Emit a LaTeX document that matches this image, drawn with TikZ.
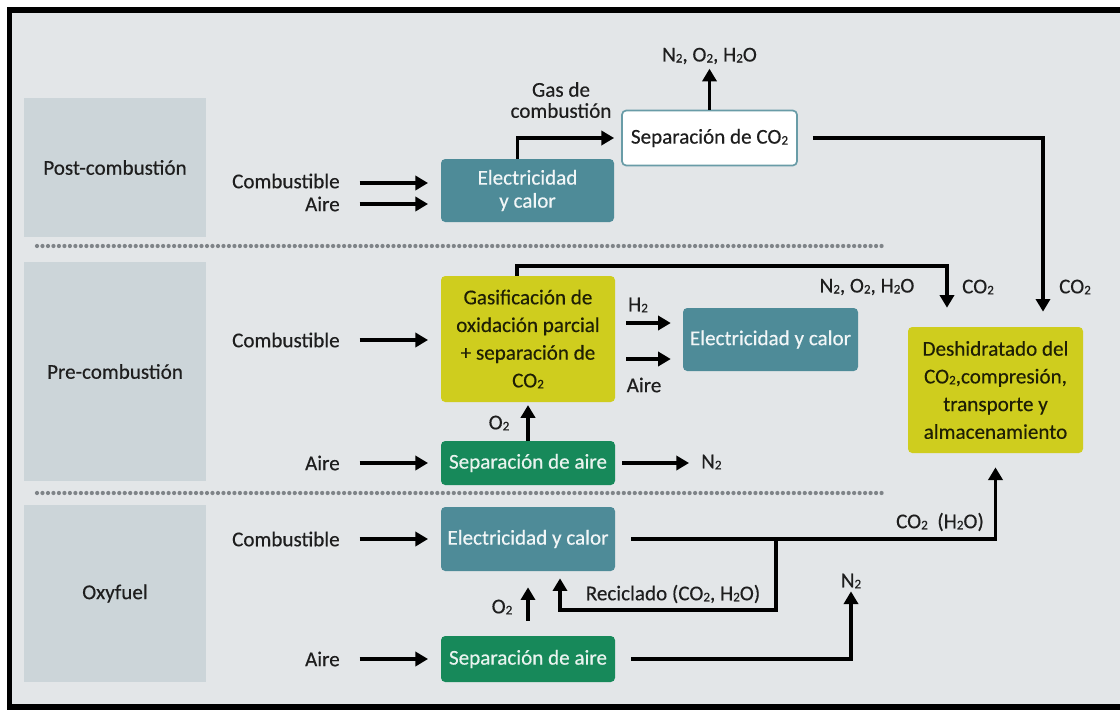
\documentclass[tikz,border=0pt]{standalone}
\usepackage{fontspec}
\setmainfont{Carlito}[UprightFeatures={FakeBold=0.35}]
\usetikzlibrary{arrows.meta}
\definecolor{bg}{HTML}{E3E6E8}
\definecolor{catc}{HTML}{CCD5D9}
\definecolor{tealbx}{HTML}{4E8B98}
\definecolor{yel}{HTML}{CFCD1E}
\definecolor{grn}{HTML}{17895A}
\definecolor{dotc}{HTML}{7F8488}
\definecolor{txt}{HTML}{1E1E1E}
\newcommand{\sbs}[1]{\raisebox{-0.1ex}{\scalebox{0.62}{#1}}}
\def\PX{0.025cm}
\begin{document}
\begin{tikzpicture}[x=0.025cm,y=-0.025cm,
  every node/.style={font=\fontsize{15}{19.7}\selectfont, text=txt, inner sep=0pt},
  wh/.style 2 args={minimum width=#1*\PX, minimum height=#2*\PX},
  catbox/.style={fill=catc, rectangle},
  proc/.style={rectangle, rounded corners=3pt, align=center},
  tealbox/.style={proc, fill=tealbx, text=white!92!tealbx},
  yelbox/.style={proc, fill=yel, text=black!85!yel},
  grnbox/.style={proc, fill=grn, text=white!90!grn},
  wbox/.style={proc, fill=white, draw=tealbx!85!white, line width=1.2pt},
  arr/.style={line width=2.6pt, line join=miter, -{Triangle[length=9pt,width=10pt]}},
  dots/.style={line width=3pt, dotc, line cap=round, dash pattern=on 0pt off 3.9pt}
]
\useasboundingbox (0,0) rectangle (1120,711);
\fill[white] (0,0) rectangle (1120,711);
\fill[bg] (9.5,10) rectangle (1120,707);
\draw[line width=4.2pt, line join=miter] (1120,10) -- (9.5,10) -- (9.5,707) -- (1120,707);

% category boxes
\node[catbox, wh={182}{139}] (cpost) at (115,167.5) {Post-combustión};
\node[catbox, wh={182}{219}] (cpre) at (115,371.5) {Pre-combustión};
\node[catbox, wh={182}{177}] (coxy) at (115,593.5) {Oxyfuel};

% separators
\draw[dots] (37,246) -- (883,246);
\draw[dots] (37,493) -- (883,493);

% ---- post-combustion
\node[anchor=east] (pC) at (340,181) {Combustible};
\node[anchor=east] (pA) at (340,204) {Aire};
\node[tealbox, wh={173}{63}, font=\fontsize{15}{16.4}\selectfont] (ePost) at (527.5,190.5) {Electricidad\\y calor};
\draw[arr, shorten <=14pt, shorten >=9pt] ([yshift=-2*\PX]pC.east) -- ([yshift=-2*\PX]pC.east -| ePost.west);
\draw[arr, shorten <=14pt, shorten >=9pt] (pA.east) -- (pA.east -| ePost.west);
\node[wbox, wh={175}{55}] (sCO2) at (709.5,138) {Separación de CO\sbs{2}};
\draw[arr, shorten >=5pt] ([xshift=-10*\PX]ePost.north) |- (sCO2.west);
\node[align=center, font=\fontsize{15}{15}\selectfont] (gasl) at (561,100) {Gas de\\combustión};
\node (tl) at (709.5,56) {N\sbs{2},\ O\sbs{2},\ H\sbs{2}O};
\draw[arr, shorten >=3pt] (sCO2.north) -- (tl.south);

% ---- deshidratado
\node[yelbox, wh={175}{126}] (des) at (995.5,390) {Deshidratado del\\CO\sbs{2},compresión,\\transporte y\\almacenamiento};
\draw[arr, shorten <=10.7pt, shorten >=10.7pt] (sCO2.east) -| ([xshift=47.5*\PX]des.north);
\node (l3) at (1075,287) {CO\sbs{2}};

% ---- pre-combustion
\node[yelbox, wh={174}{126}] (gas) at (528,339) {Gasificación de\\oxidación parcial\\+ separación de\\CO\sbs{2}};
\node[anchor=east] (rC) at (340,340) {Combustible};
\draw[arr, shorten <=14pt, shorten >=9pt] (rC.east) -- (rC.east -| gas.west);
\draw[arr, shorten >=13.5pt] ([xshift=-11*\PX]gas.north) -- ++(0,-10) -| ([xshift=-48.5*\PX]des.north);
\node (l1) at (867,287) {N\sbs{2},\ O\sbs{2},\ H\sbs{2}O};
\node (l2) at (978,287) {CO\sbs{2}};
\node[tealbox, wh={175}{63}] (eMid) at (770.5,339.5) {Electricidad y calor};
\draw[arr, shorten <=7.8pt, shorten >=8.5pt] ([yshift=16*\PX]gas.east) -- ([yshift=16*\PX]gas.east -| eMid.west);
\draw[arr, shorten <=7.8pt, shorten >=8.5pt] ([yshift=-20*\PX]gas.east) -- ([yshift=-20*\PX]gas.east -| eMid.west);
\node (h2) at (638,305) {H\sbs{2}};
\node (ai) at (644,385) {Aire};
\node[grnbox, wh={174}{44}] (sAp) at (528,463) {Separación de aire};
\node[anchor=east] (rA) at (340,463) {Aire};
\draw[arr, shorten <=14pt, shorten >=9pt] (rA.east) -- (rA.east -| sAp.west);
\draw[arr, shorten >=2pt] (sAp.north) -- (gas.south);
\node (o2p) at (499,423) {O\sbs{2}};
\node[anchor=west] (n2p) at (701,462) {N\sbs{2}};
\draw[arr, shorten <=5pt, shorten >=8.5pt] (sAp.east) -- (sAp.east -| n2p.west);

% ---- oxyfuel
\node[tealbox, wh={174}{64}] (eOxy) at (528,539) {Electricidad y calor};
\node[anchor=east] (oC) at (340,539) {Combustible};
\draw[arr, shorten <=14pt, shorten >=9pt] (oC.east) -- (oC.east -| eOxy.west);
\node[grnbox, wh={174}{46}] (sAo) at (528,659) {Separación de aire};
\node[anchor=east] (oA) at (340,659) {Aire};
\draw[arr, shorten <=14pt, shorten >=9pt] (oA.east) -- (oA.east -| sAo.west);
\draw[arr, shorten <=11.4pt, shorten >=10pt] (eOxy.east) -| (des.south);
\node (co2h) at (940,522) {CO\sbs{2}\ \ (H\sbs{2}O)};
\coordinate (br) at (776,539);
\draw[arr, shorten >=5pt] (br) -- ++(0,71) -| ([xshift=32*\PX]eOxy.south);
\node (rec) at (673,594) {Reciclado (CO\sbs{2}, H\sbs{2}O)};
\draw[arr, shorten <=10.7pt, shorten >=11.4pt] (sAo.north) -- (eOxy.south);
\node (o2o) at (502,607) {O\sbs{2}};
\node (n2o) at (851,581) {N\sbs{2}};
\draw[arr, shorten <=11.4pt, shorten >=2pt] (sAo.east) -| (n2o.south);
\end{tikzpicture}
\end{document}
